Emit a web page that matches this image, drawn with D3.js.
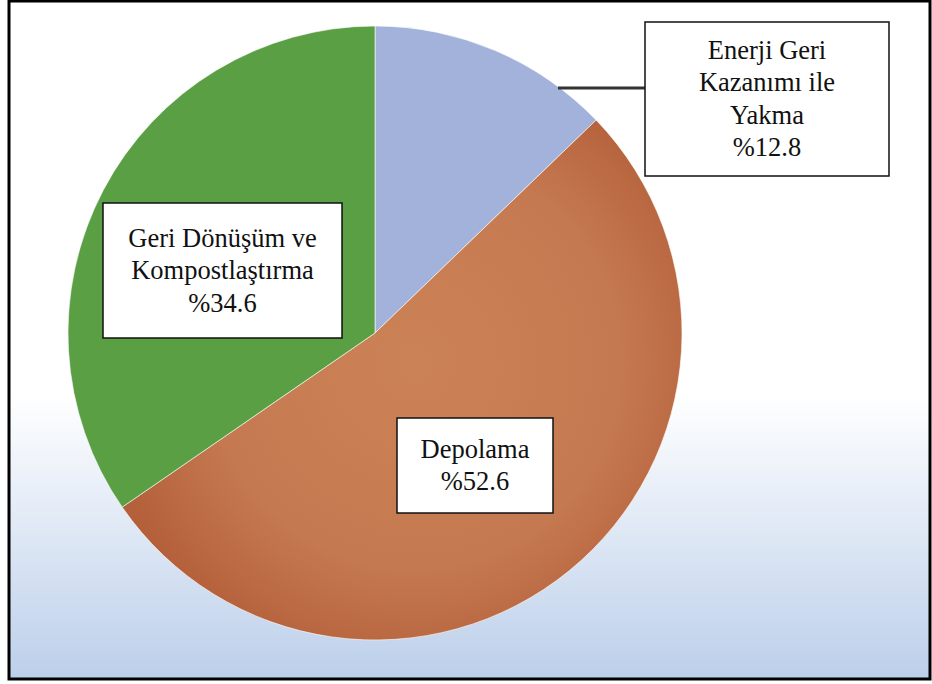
<!DOCTYPE html>
<html>
<head>
<meta charset="utf-8">
<script src="https://cdn.jsdelivr.net/npm/d3@7"></script>
<style>
  html, body { margin: 0; padding: 0; background: #fff; }
  svg { display: block; }
  .lbl { font-family: "Liberation Serif", Tinos, "Times New Roman", Times, "Noto Serif", "DejaVu Serif", FreeSerif, serif; }
</style>
</head>
<body>
<div class="canvas"></div>
<script>
// data
const categories = ["Enerji Geri Kazanımı ile Yakma", "Depolama", "Geri Dönüşüm ve Kompostlaştırma"];
const values = [12.8, 52.6, 34.6];
const labelLines = [["Enerji Geri", "Kazanımı ile", "Yakma"], ["Depolama"], ["Geri Dönüşüm ve", "Kompostlaştırma"]];
const colors = ["#a2b2db", "url(#orangeGrad)", "#5b9f45"];

const width = 932, height = 684;
const center = { x: 375, y: 333 };
const radius = 307;

// label boxes (x, y, w, h) per slice
const boxes = [
  { x: 645, y: 22, w: 244, h: 154 },
  { x: 397, y: 418, w: 156, h: 95 },
  { x: 103, y: 203, w: 239, h: 135 }
];

var svg = d3.select(".canvas").append("svg").attr("width", width).attr("height", height);
var defs = svg.append("defs");

var bg = defs.append("linearGradient").attr("id", "bgGrad")
  .attr("x1", 0).attr("y1", 0).attr("x2", 0).attr("y2", 1);
bg.append("stop").attr("offset", "0%").attr("stop-color", "#ffffff");
bg.append("stop").attr("offset", "58%").attr("stop-color", "#ffffff");
bg.append("stop").attr("offset", "100%").attr("stop-color", "#bccfea");

// pie paths live in a translated group, so the gradient centre is relative to the pie centre
var og = defs.append("radialGradient").attr("id", "orangeGrad")
  .attr("gradientUnits", "userSpaceOnUse")
  .attr("cx", 40).attr("cy", 30).attr("r", radius + 10);
og.append("stop").attr("offset", "0%").attr("stop-color", "#cc8257");
og.append("stop").attr("offset", "65%").attr("stop-color", "#c57950");
og.append("stop").attr("offset", "100%").attr("stop-color", "#b4603a");

// frame with background
svg.append("rect")
  .attr("x", 9).attr("y", 1)
  .attr("width", 921).attr("height", 678)
  .attr("fill", "url(#bgGrad)")
  .attr("stroke", "#000")
  .attr("stroke-width", 3);

const pie = d3.pie().sort(null).value(d => d);
const arcs = pie(values);
const arc = d3.arc().innerRadius(0).outerRadius(radius);

const g = svg.append("g").attr("transform", `translate(${center.x},${center.y})`);

g.selectAll("path.slice")
  .data(arcs)
  .enter()
  .append("path")
  .attr("class", "slice")
  .attr("d", arc)
  .attr("fill", (d, i) => colors[i])
  .attr("stroke", "#ffffff")
  .attr("stroke-width", 0.6);

// leader line for the first slice: from rim to left edge of its box
const leaderY = 88;
const dy = leaderY - center.y;
const rimX = center.x + Math.sqrt(radius * radius - dy * dy);
svg.append("line")
  .attr("x1", rimX - 2).attr("y1", leaderY)
  .attr("x2", boxes[0].x).attr("y2", leaderY)
  .attr("stroke", "#333")
  .attr("stroke-width", 3);

// label boxes
const fontSize = 26.5;
const lineH = 32.5;
arcs.forEach((a, i) => {
  const b = boxes[i];
  svg.append("rect")
    .attr("x", b.x).attr("y", b.y)
    .attr("width", b.w).attr("height", b.h)
    .attr("fill", "#fff")
    .attr("stroke", "#111")
    .attr("stroke-width", 1.5);

  const lines = labelLines[i].concat(["%" + values[i].toFixed(1)]);
  const cx = b.x + b.w / 2;
  const total = (lines.length - 1) * lineH;
  const firstBase = b.y + b.h / 2 - total / 2 + fontSize * 0.33;
  const t = svg.append("text")
    .attr("class", "lbl")
    .attr("text-anchor", "middle")
    .attr("font-size", fontSize + "px")
    .attr("fill", "#111");
  lines.forEach((ln, j) => {
    t.append("tspan").attr("x", cx).attr("y", firstBase + j * lineH).text(ln);
  });
});
</script>
</body>
</html>
